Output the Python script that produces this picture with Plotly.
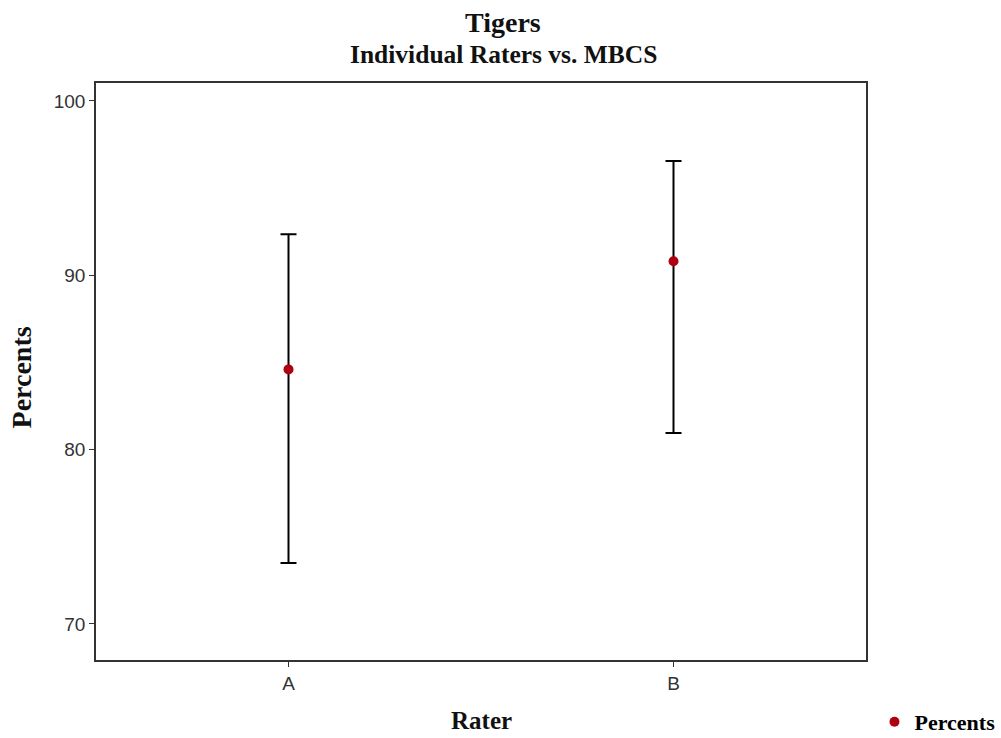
import plotly.graph_objects as go

# data
raters = ["A", "B"]
percents = [84.6, 90.8]
upper = [92.35, 96.55]
lower = [73.5, 80.95]

err_plus = [u - m for u, m in zip(upper, percents)]
err_minus = [m - l for m, l in zip(percents, lower)]

serif = "Liberation Serif, Times New Roman, serif"
sans = "Liberation Sans, Arial, sans-serif"

fig = go.Figure()
fig.add_trace(go.Scatter(
    x=raters,
    y=percents,
    mode="markers",
    name="<b>Percents</b>",
    marker=dict(color="#B0000F", size=10),
    error_y=dict(
        type="data",
        symmetric=False,
        array=err_plus,
        arrayminus=err_minus,
        color="black",
        thickness=2,
        width=8,
    ),
))

fig.update_layout(
    width=1001,
    height=738,
    plot_bgcolor="white",
    paper_bgcolor="white",
    margin=dict(l=96, r=135, t=83, b=78, autoexpand=False),
    showlegend=True,
    legend=dict(
        xref="container", yref="container",
        x=0.8736, xanchor="left", y=0.0217, yanchor="middle",
        font=dict(family=serif, size=22, color="black"),
    ),
    xaxis=dict(
        type="category",
        range=[-0.5, 1.5],
        showline=True, linecolor="#333", linewidth=1.5, mirror=True,
        ticks="outside", ticklen=5, tickcolor="#333",
        showgrid=False, zeroline=False,
        tickfont=dict(family=sans, size=19, color="#333"),
    ),
    yaxis=dict(
        range=[67.93, 101.03],
        tickvals=[70, 80, 90, 100],
        showline=True, linecolor="#333", linewidth=1.5, mirror=True,
        ticks="outside", ticklen=5, tickcolor="#333",
        showgrid=False, zeroline=False,
        tickfont=dict(family=sans, size=19, color="#333"),
    ),
)

texts = [
    dict(text="<b>Tigers</b>", x=0.5286, y=1.1057, size=28, angle=0),
    dict(text="<b>Individual Raters vs. MBCS</b>", x=0.5286, y=1.0494, size=25.5, angle=0),
    dict(text="<b>Rater</b>", x=0.5, y=-0.1049, size=25, angle=0),
    dict(text="<b>Percents</b>", x=-0.0955, y=0.4905, size=28, angle=-90),
]
for t in texts:
    fig.add_annotation(
        text=t["text"], x=t["x"], y=t["y"], xref="paper", yref="paper",
        xanchor="center", yanchor="middle", showarrow=False, textangle=t["angle"],
        font=dict(family=serif, size=t["size"], color="#111"),
    )

# drop the default body margin so the figure fills the window exactly
fig.write_html(
    "out.html",
    config={"displayModeBar": False},
    post_script="document.body.style.margin='0';",
)
